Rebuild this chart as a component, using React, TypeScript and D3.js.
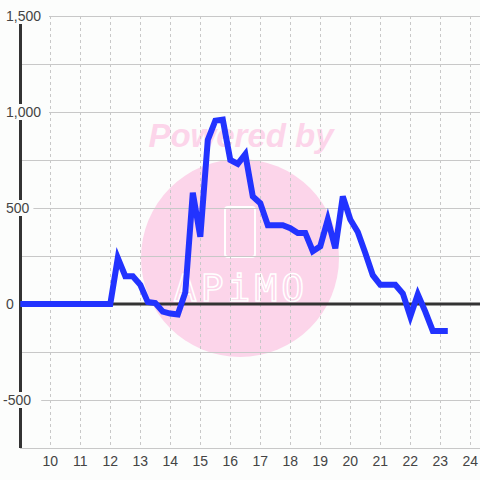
import React from "react";
import * as d3 from "d3";

const hours: number[] = [
  9.0, 9.25, 9.5, 9.75, 10.0, 10.25, 10.5, 10.75, 11.0, 11.25, 11.5, 11.75,
  12.0, 12.25, 12.5, 12.75, 13.0, 13.25, 13.5, 13.75, 14.0, 14.25, 14.5, 14.75,
  15.0, 15.25, 15.5, 15.75, 16.0, 16.25, 16.5, 16.75, 17.0, 17.25, 17.5, 17.75,
  18.0, 18.25, 18.5, 18.75, 19.0, 19.25, 19.5, 19.75, 20.0, 20.25, 20.5, 20.75,
  21.0, 21.25, 21.5, 21.75, 22.0, 22.25, 22.5, 22.75, 23.0, 23.25,
];
const values: number[] = [
  0, 0, 0, 0, 0, 0, 0, 0, 0, 0, 0, 0,
  0, 240, 145, 145, 100, 10, 5, -40, -50, -55, 60, 580,
  350, 855, 955, 960, 750, 730, 780, 560, 525, 410, 410, 410,
  395, 370, 370, 275, 300, 440, 290, 560, 440, 375, 265, 150,
  100, 100, 100, 55, -65, 50, -40, -140, -140, -140,
];
const yTicks: number[] = [1500, 1000, 500, 0, -500];
const yGrid: number[] = [1500, 1250, 1000, 750, 500, 250, -250, -500, -750];
const xTicks: number[] = [10, 11, 12, 13, 14, 15, 16, 17, 18, 19, 20, 21, 22, 23, 24];

const W = 480;
const H = 480;
const BG = "#fcfdfc";
const FONT = "'Liberation Sans', Arial, sans-serif";

export default function App() {
  const x = d3.scaleLinear().domain([9, 24]).range([20.3, 470.3]);
  const y = d3.scaleLinear().domain([-750, 1500]).range([448, 16]);
  const fmt = (v: number) => d3.format(",")(v).replace("\u2212", "-");
  const line = d3
    .line<number>()
    .x((_, i) => x(hours[i]))
    .y((v) => y(v));

  const pink = "#fcd5ea";

  return (
    <svg
      width={W}
      height={H}
      style={{ position: "absolute", left: 0, top: 0, background: BG }}
    >
      <rect x={0} y={0} width={W} height={H} fill={BG} />
      {/* watermark */}
      <g>
        <circle cx={240} cy={258} r={99} fill={pink} />
        <text
          x={241}
          y={147}
          textAnchor="middle"
          fontFamily={FONT}
          fontWeight="bold"
          fontStyle="italic"
          fontSize={33}
          fill={pink}
        >
          Powered by
        </text>
        <rect x={225} y={207} width={30} height={50} rx={3} fill="none" stroke="#ffffff" strokeWidth={2} />
        <text
          x={241}
          y={301}
          textAnchor="middle"
          fontFamily="'DejaVu Sans Mono', monospace"
          fontSize={38}
          fill="none"
          stroke="#ffffff"
          strokeWidth={1.5}
          letterSpacing={4}
        >
          APiMO
        </text>
      </g>
      {/* horizontal grid */}
      {yGrid.map((v) => (
        <line key={"hg" + v} x1={20} x2={W} y1={y(v) + 0.5} y2={y(v) + 0.5} stroke="#c8c8c8" strokeWidth={1} />
      ))}
      {/* vertical grid */}
      {xTicks.map((t) => (
        <line
          key={"vg" + t}
          x1={Math.round(x(t)) + 0.5}
          x2={Math.round(x(t)) + 0.5}
          y1={y(1500)}
          y2={y(-750)}
          stroke="#c8c8c8"
          strokeWidth={1}
          strokeDasharray="3,3"
        />
      ))}
      {/* zero line */}
      <line x1={20} x2={W} y1={y(0)} y2={y(0)} stroke="#333333" strokeWidth={3} />
      {/* y axis line */}
      <line x1={20.5} x2={20.5} y1={y(1500)} y2={y(-750)} stroke="#333333" strokeWidth={3} />
      {/* y labels */}
      {yTicks.map((v) => {
        const label = fmt(v);
        const w = label.length * 7.8 + 4;
        return (
          <g key={"yl" + v}>
            <rect x={0} y={y(v) - 8} width={6 + w} height={16} fill={BG} />
            <text
              x={v < 0 ? 3 : 6}
              y={y(v)}
              dy="0.36em"
              fontFamily={FONT}
              fontSize={14}
              fill="#444444"
            >
              {label}
            </text>
          </g>
        );
      })}
      {/* x labels */}
      {xTicks.map((t) => (
        <text
          key={"xl" + t}
          x={x(t)}
          y={461}
          dy="0.36em"
          textAnchor="middle"
          fontFamily={FONT}
          fontSize={14}
          fill="#444444"
        >
          {t}
        </text>
      ))}
      {/* data line */}
      <path d={line(values) || ""} fill="none" stroke="#2233ff" strokeWidth={6} />
    </svg>
  );
}
